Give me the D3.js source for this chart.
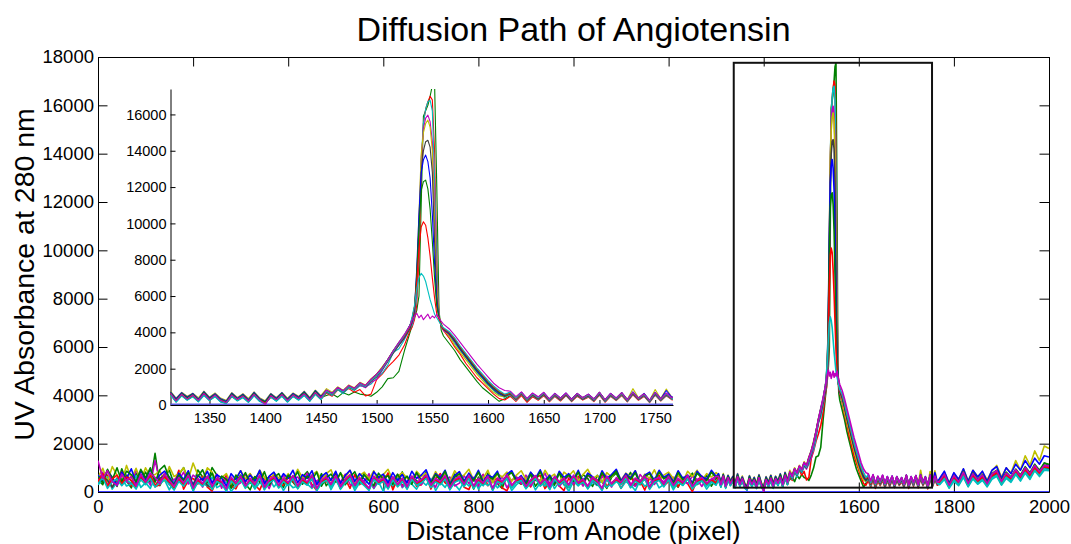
<!DOCTYPE html>
<html>
<head>
<meta charset="utf-8">
<script src="https://cdn.jsdelivr.net/npm/d3@7"></script>
<style>
  body { margin: 0; background: #fff; }
  text { font-family: "Liberation Sans", Arial, Helvetica, sans-serif; }
</style>
</head>
<body>
<svg id="chart" width="1071" height="544"></svg>
<script>
// sample positions along the capillary (pixel), shared by every scan
const xGrid = [
  0, 10, 20, 30, 40, 50, 60, 70, 80, 90,
  100, 110, 120, 130, 140, 150, 160, 170, 180, 190,
  200, 210, 220, 230, 240, 250, 260, 270, 280, 290,
  300, 310, 320, 330, 340, 350, 360, 370, 380, 390,
  400, 410, 420, 430, 440, 450, 460, 470, 480, 490,
  500, 510, 520, 530, 540, 550, 560, 570, 580, 590,
  600, 610, 620, 630, 640, 650, 660, 670, 680, 690,
  700, 710, 720, 730, 740, 750, 760, 770, 780, 790,
  800, 810, 820, 830, 840, 850, 860, 870, 880, 890,
  900, 910, 920, 930, 940, 950, 960, 970, 980, 990,
  1000, 1010, 1020, 1030, 1040, 1050, 1060, 1070, 1080, 1090,
  1100, 1110, 1120, 1130, 1140, 1150, 1160, 1170, 1180, 1190,
  1200, 1210, 1220, 1230, 1240, 1250, 1260, 1270, 1280, 1290,
  1300,
  1305, 1310, 1315, 1320, 1325, 1330, 1335, 1340, 1345, 1350,
  1355, 1360, 1365, 1370, 1375, 1380, 1385, 1390, 1395, 1400,
  1405, 1410, 1415, 1420, 1425, 1430, 1435, 1440, 1445, 1450,
  1455, 1460, 1465, 1470, 1475, 1480, 1485, 1490, 1495, 1500,
  1505, 1510, 1515, 1520, 1525, 1530,
  1532, 1534, 1536, 1538, 1540, 1542, 1544, 1546, 1548, 1550,
  1552, 1554, 1556, 1558, 1560,
  1565, 1570, 1575, 1580, 1585, 1590, 1595, 1600, 1605, 1610,
  1615, 1620, 1625, 1630, 1635, 1640, 1645, 1650, 1655, 1660,
  1665, 1670, 1675, 1680, 1685, 1690, 1695, 1700, 1705, 1710,
  1715, 1720, 1725, 1730, 1735, 1740, 1745, 1750, 1755, 1760,
  1765,
  1770, 1780, 1790, 1800, 1810, 1820, 1830, 1840, 1850, 1860,
  1870, 1880, 1890, 1900, 1910, 1920, 1930, 1940, 1950, 1960,
  1970, 1980, 1990, 2000
];

// UV absorbance, one array per scan (time order)
const scan1 = [
  520, 300, 880, 610, 230, 960, 450, 170, 770, 540,
  820, 390, 1600, 260, 640, 900, 330, 710, 1010, 480,
  240, 910, 620, 380, 1010, 700, 280, 560, 150, 420,
  700, 330, 90, 580, 810, 460, 300, 720, 480, 190,
  690, 400, 170, 620, 840, 510, 330, 760, 260, 540,
  760, 140, 500, 680, 300, 370, 790, 560, 250, 610,
  580, 720, 190, 460, 830, 160, 630, 470, 340, 840,
  290, 560, 700, 410, 200, 740, 520, 410, 680, 120,
  620, 270, 780, 500, 330, 150, 670, 830, 450, 320,
  580, 720, 240, 510, 220, 650, 460, 790, 300, 180,
  610, 380, 720, 560, 230, 690, 420, 150, 600, 780,
  340, 520, 810, 260, 450, 700, 190, 560, 640, 300,
  750, 420, 200, 610, 530, 780, 310, 460, 690, 240,
  560,
  720, 330, 690, 280, 610, 420, 560, 220, 680, 350,
  590, 300, 120, 610, 340, 530, 200, 640, 260, 190,
  540, 320, 600, 210, 570, 390, 650, 260, 700, 420,
  520, 620, 430, 680, 550, 720, 600, 560, 480, 700,
  1000, 1450, 1500, 1850, 3000, 4000,
  4400, 4800, 5200, 6000, 11000, 15900, 16200, 16500, 17000, 17600,
  17750, 12000, 5200, 4100, 3800,
  3400, 3000, 2500, 2100, 1700, 1300, 950, 700, 450, 200,
  350, 520, 300, 580, 180, 520, 320, 570, 230, 560,
  280, 600, 240, 560, 340, 500, 260, 620, 200, 570,
  310, 610, 230, 650, 330, 540, 180, 620, 280, 590,
  350,
  450, 700, 280, 620, 400, 750, 330, 820, 500, 640,
  330, 690, 880, 450, 760, 560, 900, 620, 1000, 700,
  1100, 800, 1200, 1100
];
const scan2 = [
  380, 600, 700, 180, 460, 820, 520, 260, 350, 740,
  410, 690, 220, 300, 760, 540, 350, 900, 120, 480,
  560, 330, 640, 200, 40, 520, 380, 700, 260, 130,
  580, 410, 750, 300, 80, 530, 610, 660, 200, 300,
  610, 450, 180, 520, 700, 310, 60, 590, 420, 350,
  680, 230, 540, 150, 720, 300, 470, 620, 160, 640,
  380, 790, 90, 560, 280, 420, 650, 240, 300, 680,
  120, 550, 760, 380, 240, 470, 650, 200, 100, 600,
  420, 730, 260, 480, 560, 170, 50, 480, 620, 330,
  470, 210, 580, 690, 140, 400, 530, 250, 60, 570,
  300, 650, 420, 180, 610, 470, 720, 230, 380, 560,
  150, 500, 640, 320, 460, 80, 590, 410, 700, 260,
  430, 610, 220, 540, 350, 20, 490, 660, 300, 520,
  450,
  540, 250, 600, 180, 520, 300, 470, 210, 560, 260,
  480, 180, 90, 450, 280, 420, 170, 560, 230, 80,
  420, 250, 510, 180, 480, 300, 560, 220, 600, 310,
  650, 480, 820, 700, 900, 700, 850, 500, 600, 1400,
  1700, 2100, 2400, 2750, 3300, 4100,
  4300, 4700, 5500, 8000, 13000, 15500, 16300, 16700, 17000, 16800,
  14000, 8000, 4800, 4300, 4100,
  3700, 3200, 2800, 2300, 1900, 1500, 1200, 900, 600, 350,
  280, 480, 200, 520, 150, 450, 260, 500, 180, 470,
  220, 520, 180, 480, 270, 430, 190, 540, 150, 480,
  240, 520, 170, 560, 260, 470, 130, 540, 220, 500,
  280,
  350, 600, 200, 520, 320, 700, 260, 640, 400, 560,
  260, 620, 720, 330, 640, 480, 780, 520, 850, 600,
  950, 700, 1000, 950
];
const scan3 = [
  300, 480, 620, 120, 400, 560, 250, 330, 680, 190,
  380, 150, 600, 330, 500, 90, 470, 620, 280, 540,
  90, 480, 360, 250, 620, 180, 300, 420, 30, 260,
  530, 260, 440, 120, 380, 250, 560, 210, 470, 60,
  390, 180, 250, 520, 330, 150, 430, 310, 580, 100,
  460, 240, 350, 520, 60, 380, 290, 560, 140, 420,
  30, 500, 260, 610, 180, 390, 320, 120, 470, 280,
  560, 60, 400, 190, 520, 320, 80, 440, 250, 560,
  130, 400, 270, 480, 170, 350, 540, 60, 300, 460,
  200, 510, 90, 380, 250, 560, 140, 420, 330, 40,
  440, 250, 560, 130, 400, 270, 480, 200, 350, 520,
  150, 430, 300, 60, 490, 240, 380, 560, 170, 320,
  480, 90, 410, 270, 540, 180, 330, 460, 120, 390,
  480,
  480, 200, 560, 150, 500, 260, 450, 170, 520, 240,
  450, 160, 80, 470, 220, 400, 140, 500, 190, 60,
  440, 200, 480, 150, 460, 260, 520, 200, 580, 300,
  700, 520, 850, 620, 950, 800, 1050, 1000, 1150, 1500,
  1750, 2200, 2900, 3100, 3600, 4200,
  4400, 4900, 6000, 9500, 13500, 15500, 16300, 16700, 16790, 16200,
  12500, 7500, 4900, 4400, 4200,
  3800, 3400, 3000, 2600, 2200, 1800, 1450, 1100, 800, 550,
  420, 560, 260, 600, 230, 520, 300, 560, 220, 500,
  260, 540, 210, 520, 300, 470, 220, 580, 190, 500,
  270, 560, 200, 600, 290, 500, 160, 570, 240, 530,
  320,
  300, 520, 150, 440, 260, 600, 210, 540, 320, 480,
  210, 520, 650, 280, 560, 400, 720, 450, 780, 520,
  880, 640, 900, 880
];
const scan4 = [
  460, 820, 310, 580, 260, 700, 420, 350, 900, 510,
  640, 280, 1300, 470, 760, 300, 540, 480, 820, 330,
  700, 550, 200, 640, 380, 740, 160, 590, 450, 260,
  380, 720, 500, 230, 600, 480, 140, 650, 420, 700,
  280, 560, 620, 350, 780, 200, 470, 560, 680, 290,
  600, 420, 740, 310, 250, 580, 430, 760, 170, 520,
  650, 340, 520, 720, 210, 440, 560, 780, 300, 640,
  410, 200, 700, 480, 620, 250, 370, 680, 350, 600,
  240, 720, 430, 560, 320, 640, 180, 490, 620, 350,
  700, 260, 530, 440, 780, 300, 600, 230, 470, 660,
  330, 580, 240, 720, 460, 300, 640, 530, 200, 600,
  430, 680, 350, 240, 720, 490, 600, 310, 560, 420,
  620, 290, 700, 450, 340, 660, 520, 230, 580, 430,
  620,
  620, 280, 640, 220, 580, 330, 520, 260, 620, 290,
  540, 230, 100, 520, 300, 480, 220, 580, 280, 70,
  500, 280, 560, 230, 520, 330, 600, 280, 660, 360,
  760, 560, 900, 700, 1000, 850, 1100, 950, 1250, 1400,
  1900, 2400, 2900, 3300, 3700, 4300,
  4500, 5000, 6500, 10000, 13500, 15200, 15800, 15960, 15600, 14500,
  11000, 6800, 4900, 4400, 4100,
  3900, 3500, 3100, 2700, 2300, 1900, 1550, 1200, 900, 650,
  500, 620, 330, 640, 280, 560, 350, 600, 260, 540,
  300, 580, 250, 560, 330, 520, 260, 620, 230, 540,
  310, 600, 240, 640, 330, 540, 200, 610, 290, 570,
  370,
  420, 660, 260, 600, 380, 760, 300, 700, 460, 620,
  300, 680, 820, 400, 700, 540, 860, 600, 950, 680,
  1050, 780, 1100, 1050
];
const scan5 = [
  600, 980, 420, 1050, 700, 400, 1100, 560, 980, 460,
  1000, 640, 720, 880, 460, 1050, 640, 760, 1000, 520,
  1200, 700, 520, 1000, 820, 380, 600, 760, 320, 560,
  880, 540, 760, 420, 900, 620, 300, 800, 580, 460,
  760, 520, 940, 600, 380, 700, 850, 460, 760, 920,
  420, 760, 600, 900, 340, 680, 820, 520, 880, 400,
  720, 940, 480, 650, 800, 580, 380, 860, 640, 780,
  420, 840, 520, 760, 420, 880, 600, 700, 940, 480,
  800, 560, 900, 380, 760, 620, 820, 440, 700, 880,
  520, 780, 640, 420, 900, 600, 740, 380, 820, 660,
  880, 460, 720, 940, 560, 680, 400, 800, 620, 900,
  500, 780, 620, 880, 420, 740, 560, 920, 480, 700,
  820, 560, 700, 420, 860, 640, 900, 480, 760, 620,
  800,
  700, 420, 760, 380, 700, 480, 650, 400, 760, 440,
  660, 380, 260, 680, 420, 620, 360, 720, 400, 240,
  640, 420, 700, 380, 660, 480, 760, 420, 820, 520,
  900, 700, 1000, 820, 1100, 950, 1250, 1100, 1450, 1700,
  2100, 2500, 3000, 3400, 3800, 4400,
  4700, 5200, 7000, 10500, 13800, 15000, 15500, 15685, 15300, 14000,
  10000, 6500, 4900, 4500, 4200,
  3800, 3300, 2900, 2500, 2100, 1700, 1350, 1000, 700, 500,
  450, 700, 380, 680, 330, 620, 420, 650, 330, 600,
  380, 640, 320, 620, 420, 580, 330, 700, 300, 620,
  380, 680, 300, 900, 400, 620, 260, 850, 360, 880,
  420,
  500, 820, 380, 760, 520, 950, 460, 900, 640, 820,
  500, 880, 1100, 620, 1000, 780, 1300, 900, 1500, 1100,
  1700, 1300, 1900, 1800
];
const scan6 = [
  360, 640, 480, 200, 580, 300, 700, 450, 180, 620,
  380, 600, 240, 560, 700, 340, 120, 480, 280, 600,
  90, 420, 560, 280, 150, 480, 360, 60, 500, 300,
  560, 180, 460, 250, 620, 120, 420, 540, 200, 470,
  300, 600, 170, 450, 320, 600, 80, 400, 520, 240,
  580, 150, 430, 620, 200, 500, 300, 100, 560, 350,
  480, 160, 540, 250, 480, 150, 560, 320, 400, 600,
  210, 460, 330, 580, 120, 420, 520, 250, 600, 180,
  450, 300, 560, 90, 480, 360, 620, 200, 430, 510,
  160, 400, 580, 270, 460, 130, 550, 340, 480, 220,
  600, 310, 440, 170, 520, 380, 90, 560, 270, 460,
  330, 590, 200, 480, 360, 560, 140, 430, 510, 250,
  550, 200, 460, 320, 600, 160, 420, 500, 280, 450,
  320,
  560, 230, 600, 200, 540, 290, 490, 220, 580, 260,
  500, 210, 110, 500, 260, 450, 190, 540, 240, 100,
  460, 240, 520, 200, 500, 300, 560, 240, 620, 330,
  720, 560, 880, 700, 980, 840, 1150, 1000, 1300, 1550,
  1950, 2400, 2850, 3300, 3700, 4200,
  4600, 5100, 6800, 9800, 12800, 14000, 14500, 14580, 14200, 12800,
  9000, 6000, 4800, 4400, 4150,
  3900, 3500, 3050, 2650, 2250, 1850, 1500, 1150, 850, 600,
  470, 600, 310, 620, 260, 540, 330, 590, 250, 530,
  290, 570, 230, 550, 320, 510, 250, 600, 220, 530,
  300, 590, 230, 620, 310, 530, 190, 600, 270, 560,
  340,
  380, 600, 220, 560, 330, 700, 270, 640, 420, 580,
  270, 620, 760, 350, 660, 500, 800, 560, 880, 640,
  980, 720, 1000, 980
];
const scan7 = [
  700, 420, 900, 560, 300, 820, 560, 960, 380, 880,
  520, 940, 460, 700, 860, 620, 300, 780, 520, 880,
  260, 700, 480, 860, 360, 720, 580, 240, 760, 520,
  880, 420, 700, 460, 900, 340, 660, 820, 420, 760,
  560, 900, 380, 720, 560, 880, 300, 640, 800, 480,
  860, 360, 680, 900, 440, 760, 540, 320, 840, 600,
  740, 380, 800, 480, 720, 380, 860, 560, 700, 920,
  420, 760, 580, 900, 350, 680, 840, 460, 780, 520,
  900, 440, 700, 600, 860, 320, 740, 880, 500, 680,
  380, 820, 560, 920, 460, 700, 340, 860, 600, 760,
  500, 900, 420, 780, 640, 360, 880, 560, 720, 940,
  460, 760, 580, 880, 360, 700, 820, 480, 900, 600,
  740, 420, 880, 560, 700, 380, 860, 640, 520, 900,
  640,
  760, 400, 720, 350, 680, 440, 640, 330, 740, 400,
  620, 340, 220, 660, 380, 600, 300, 700, 360, 200,
  620, 380, 680, 330, 640, 440, 740, 380, 800, 480,
  820, 650, 960, 780, 1050, 900, 1200, 1050, 1400, 1650,
  2000, 2500, 2950, 3400, 3800, 4400,
  4700, 5300, 7500, 10500, 12800, 13500, 13760, 13400, 12500, 10500,
  7800, 5600, 4800, 4400, 4200,
  3950, 3550, 3100, 2700, 2300, 1900, 1550, 1200, 900, 650,
  520, 720, 380, 700, 320, 640, 420, 680, 330, 640,
  380, 660, 320, 640, 400, 600, 330, 700, 280, 640,
  380, 680, 300, 720, 380, 640, 260, 700, 340, 800,
  420,
  560, 860, 360, 800, 520, 960, 440, 900, 620, 860,
  440, 900, 1050, 560, 1000, 760, 1150, 900, 1300, 1000,
  1400, 1150, 1500, 1450
];
const scan8 = [
  640, 380, 940, 500, 1000, 420, 860, 720, 420, 940,
  580, 1000, 400, 920, 1100, 560, 260, 700, 460, 800,
  200, 640, 920, 420, 780, 300, 660, 520, 180, 700,
  460, 800, 360, 640, 400, 840, 280, 600, 760, 360,
  700, 500, 840, 320, 660, 500, 820, 240, 580, 740,
  420, 800, 300, 620, 840, 380, 700, 480, 260, 780,
  540, 680, 320, 740, 420, 660, 320, 800, 500, 620,
  360, 720, 500, 860, 280, 600, 760, 400, 700, 460,
  820, 380, 640, 540, 780, 280, 660, 800, 440, 620,
  320, 740, 480, 840, 380, 640, 280, 780, 520, 700,
  440, 820, 360, 700, 560, 300, 800, 480, 660, 860,
  400, 700, 520, 800, 300, 640, 760, 420, 820, 540,
  680, 360, 800, 500, 640, 320, 780, 580, 460, 820,
  580,
  680, 360, 700, 300, 640, 400, 600, 290, 700, 360,
  580, 300, 180, 620, 340, 560, 260, 660, 320, 160,
  580, 340, 640, 290, 600, 400, 700, 340, 760, 440,
  800, 620, 940, 760, 1050, 900, 1200, 1050, 1400, 1700,
  2050, 2500, 3000, 3450, 3850, 4400,
  4800, 5400, 7200, 9800, 11800, 12300, 12380, 11900, 10800, 9000,
  7000, 5400, 4800, 4400, 4200,
  4000, 3600, 3150, 2750, 2350, 1950, 1600, 1250, 950, 700,
  540, 680, 360, 680, 300, 620, 400, 660, 310, 610,
  350, 640, 300, 620, 380, 580, 310, 680, 270, 610,
  350, 650, 280, 690, 360, 600, 240, 680, 320, 640,
  390,
  480, 720, 320, 680, 440, 860, 380, 780, 520, 720,
  380, 760, 900, 480, 820, 620, 950, 700, 1050, 800,
  1150, 900, 1200, 1150
];
const scan9 = [
  420, 760, 220, 540, 700, 330, 620, 480, 200, 660,
  380, 700, 280, 460, 620, 400, 140, 540, 300, 660,
  110, 480, 300, 640, 170, 520, 400, 80, 560, 330,
  620, 210, 500, 270, 680, 150, 470, 600, 220, 520,
  340, 660, 200, 500, 360, 660, 100, 440, 580, 270,
  640, 170, 470, 680, 230, 560, 330, 120, 620, 390,
  530, 180, 600, 280, 530, 170, 620, 350, 460, 660,
  240, 500, 380, 640, 150, 470, 580, 290, 660, 200,
  500, 330, 620, 110, 520, 400, 680, 230, 470, 560,
  190, 440, 630, 300, 500, 160, 600, 370, 520, 250,
  650, 340, 480, 200, 560, 410, 110, 610, 300, 500,
  360, 640, 230, 520, 390, 610, 160, 470, 560, 280,
  600, 230, 500, 350, 650, 190, 460, 540, 310, 490,
  380,
  600, 260, 620, 210, 560, 310, 510, 230, 600, 280,
  520, 230, 120, 530, 280, 470, 200, 560, 260, 110,
  480, 260, 540, 220, 520, 320, 580, 260, 640, 350,
  780, 600, 920, 740, 1030, 880, 1180, 1040, 1380, 1650,
  2000, 2450, 2950, 3400, 3800, 4350,
  4800, 5400, 6800, 8600, 9800, 10090, 9900, 9200, 8200, 7000,
  5900, 5000, 4700, 4400, 4200,
  4000, 3650, 3200, 2800, 2400, 2000, 1650, 1300, 1000, 750,
  560, 660, 340, 660, 290, 600, 380, 640, 290, 590,
  330, 620, 270, 600, 360, 560, 290, 660, 250, 590,
  330, 630, 260, 670, 340, 580, 220, 660, 300, 610,
  360,
  400, 640, 240, 600, 360, 760, 300, 680, 440, 620,
  300, 660, 800, 380, 720, 540, 860, 600, 920, 680,
  1000, 760, 1050, 1000
];
const scan10 = [
  340, 600, 150, 420, 540, 260, 500, 360, 120, 520,
  300, 560, 200, 420, 500, 320, 80, 440, 240, 560,
  40, 400, 240, 520, 100, 440, 320, 30, 460, 260,
  520, 150, 420, 200, 560, 90, 380, 500, 160, 440,
  260, 560, 130, 420, 280, 560, 50, 360, 480, 200,
  540, 110, 380, 580, 160, 460, 260, 60, 520, 320,
  440, 120, 500, 210, 440, 110, 520, 280, 380, 560,
  180, 420, 300, 540, 90, 400, 490, 220, 560, 140,
  420, 260, 540, 60, 440, 330, 580, 170, 400, 480,
  130, 380, 560, 240, 450, 100, 530, 300, 460, 190,
  560, 280, 410, 140, 490, 340, 60, 540, 240, 430,
  300, 560, 170, 450, 320, 540, 110, 400, 480, 210,
  520, 170, 430, 280, 560, 120, 380, 460, 240, 420,
  280,
  520, 210, 560, 170, 500, 270, 460, 190, 540, 240,
  480, 190, 90, 480, 240, 430, 160, 520, 220, 70,
  440, 220, 500, 180, 480, 280, 540, 220, 600, 310,
  760, 580, 900, 720, 1010, 860, 1160, 1020, 1360, 1620,
  1980, 2450, 2950, 3400, 3850, 4400,
  4900, 5500, 6400, 7000, 7250, 7100, 6800, 6300, 5800, 5400,
  5000, 4800, 4600, 4400, 4250,
  4050, 3700, 3250, 2850, 2450, 2050, 1700, 1350, 1050, 800,
  600, 700, 380, 680, 310, 620, 400, 660, 300, 600,
  350, 630, 280, 610, 370, 560, 300, 660, 260, 600,
  340, 640, 270, 680, 350, 590, 230, 670, 310, 620,
  370,
  320, 560, 180, 500, 300, 660, 240, 580, 360, 520,
  240, 580, 700, 320, 620, 460, 760, 500, 820, 580,
  900, 680, 960, 920
];
const scan11 = [
  1300, 560, 880, 420, 300, 740, 460, 640, 250, 720,
  420, 780, 600, 340, 720, 480, 240, 600, 380, 700,
  170, 560, 360, 660, 240, 580, 440, 130, 620, 380,
  660, 260, 560, 320, 700, 200, 500, 640, 280, 580,
  400, 680, 260, 560, 420, 700, 150, 480, 620, 320,
  680, 220, 520, 720, 280, 600, 380, 160, 660, 440,
  580, 230, 640, 320, 580, 220, 660, 400, 520, 700,
  300, 560, 440, 680, 200, 520, 640, 340, 700, 260,
  560, 380, 660, 160, 580, 440, 720, 280, 520, 620,
  240, 500, 680, 350, 560, 210, 650, 420, 580, 300,
  700, 390, 540, 250, 620, 460, 160, 660, 350, 560,
  410, 690, 280, 580, 440, 660, 210, 520, 610, 330,
  650, 280, 560, 400, 700, 240, 510, 600, 360, 540,
  640,
  640, 300, 660, 240, 600, 340, 560, 270, 640, 310,
  560, 260, 140, 560, 320, 500, 230, 600, 300, 20,
  520, 300, 580, 250, 560, 360, 620, 300, 700, 400,
  820, 640, 960, 780, 1080, 920, 1220, 1080, 1420, 1700,
  2050, 2500, 3000, 3450, 3900, 4400,
  4700, 4900, 5050, 4800, 4950, 4700, 4850, 5000, 4750, 4900,
  4800, 5000, 4800, 4600, 4450,
  4200, 3850, 3450, 3050, 2650, 2250, 1900, 1550, 1200, 950,
  800, 760, 460, 720, 360, 660, 450, 700, 340, 640,
  380, 660, 310, 640, 400, 600, 330, 700, 290, 640,
  380, 680, 300, 700, 380, 620, 260, 690, 340, 660,
  400,
  460, 740, 290, 680, 420, 820, 350, 760, 500, 700,
  350, 740, 880, 450, 780, 600, 920, 660, 1000, 760,
  1100, 850, 1100, 1080
];
const scans = [scan1, scan2, scan3, scan4, scan5, scan6, scan7, scan8, scan9, scan10, scan11];
// MATLAB colour order, starting after the blue reference scan
const scanColors = ['#008000', '#ff0000', '#00bfbf', '#bf00bf', '#bfbf00', '#404040',
                    '#0000ff', '#008000', '#ff0000', '#00bfbf', '#bf00bf'];

// reference (blank) scan
const zeroX = [0, 2000];
const zeroY = [0, 0];

const mainXTicks = [0, 200, 400, 600, 800, 1000, 1200, 1400, 1600, 1800, 2000];
const mainYTicks = [0, 2000, 4000, 6000, 8000, 10000, 12000, 14000, 16000, 18000];
const insetXTicks = [1350, 1400, 1450, 1500, 1550, 1600, 1650, 1700, 1750];
const insetYTicks = [0, 2000, 4000, 6000, 8000, 10000, 12000, 14000, 16000];

// zoom rectangle drawn on the main axes
const zoomBoxX = [1337, 1754];
const zoomBoxY = [180, 17760];

const W = 1071, H = 544;
const svg = d3.select('#chart');
svg.append('rect').attr('width', W).attr('height', H).attr('fill', '#fff');

const main = { left: 98, right: 1049, top: 57, bottom: 492 };
const x = d3.scaleLinear().domain([0, 2000]).range([main.left, main.right]);
const y = d3.scaleLinear().domain([0, 18000]).range([main.bottom, main.top]);

const inset = { left: 170.5, right: 673, top: 89, bottom: 405 };
const xi = d3.scaleLinear().domain([1315, 1766]).range([inset.left, inset.right]);
const yi = d3.scaleLinear().domain([0, 17400]).range([inset.bottom, inset.top]);

const fmt = d3.format('d');

const defs = svg.append('defs');
function addClip(id, box) {
  defs.append('clipPath').attr('id', id)
    .append('rect')
    .attr('x', box.left).attr('y', box.top)
    .attr('width', box.right - box.left).attr('height', box.bottom - box.top);
}
addClip('clipMain', main);
addClip('clipInset', inset);

function styleAxis(g, size) {
  g.attr('font-family', null).attr('font-size', null);
  g.select('.domain').attr('stroke', '#000').attr('stroke-width', 1);
  g.selectAll('.tick line').attr('stroke', '#000').attr('stroke-width', 1);
  g.selectAll('.tick text').attr('fill', '#000').style('font-size', size + 'px');
}

function drawScans(g, sx, sy, zeroColor, zeroWidth, width) {
  g.append('path')
    .datum(zeroY)
    .attr('d', d3.line().x((d, i) => sx(zeroX[i])).y(d => sy(d)))
    .attr('fill', 'none')
    .attr('stroke', zeroColor)
    .attr('stroke-width', zeroWidth);

  const line = d3.line().x((d, i) => sx(xGrid[i])).y(d => sy(d));
  scans.forEach((s, k) => {
    g.append('path')
      .datum(s)
      .attr('d', line)
      .attr('fill', 'none')
      .attr('stroke', scanColors[k])
      .attr('stroke-width', width)
      .attr('stroke-linejoin', 'round');
  });
}

// ---- main axes ----
const tick = 9.5;
svg.append('g').attr('transform', `translate(0,${main.bottom})`)
  .call(d3.axisBottom(x).tickValues(mainXTicks).tickFormat(fmt).tickSizeInner(-tick).tickSizeOuter(0).tickPadding(8))
  .call(g => styleAxis(g, 18.5));
svg.append('g').attr('transform', `translate(0,${main.top})`)
  .call(d3.axisTop(x).tickValues(mainXTicks).tickSizeInner(-tick).tickSizeOuter(0).tickFormat(''))
  .call(g => styleAxis(g, 18.5));
svg.append('g').attr('transform', `translate(${main.left},0)`)
  .call(d3.axisLeft(y).tickValues(mainYTicks).tickFormat(fmt).tickSizeInner(-tick).tickSizeOuter(0).tickPadding(4))
  .call(g => styleAxis(g, 18.5));
svg.append('g').attr('transform', `translate(${main.right},0)`)
  .call(d3.axisRight(y).tickValues(mainYTicks).tickSizeInner(-tick).tickSizeOuter(0).tickFormat(''))
  .call(g => styleAxis(g, 18.5));

drawScans(svg.append('g').attr('clip-path', 'url(#clipMain)'), x, y, '#0000ff', 1.5, 1.6);

svg.append('rect')
  .attr('x', x(zoomBoxX[0]))
  .attr('y', y(zoomBoxY[1]))
  .attr('width', x(zoomBoxX[1]) - x(zoomBoxX[0]))
  .attr('height', y(zoomBoxY[0]) - y(zoomBoxY[1]))
  .attr('fill', 'none')
  .attr('stroke', '#111')
  .attr('stroke-width', 2);

// ---- inset axes ----
svg.append('rect')
  .attr('x', inset.left).attr('y', inset.top)
  .attr('width', inset.right - inset.left).attr('height', inset.bottom - inset.top)
  .attr('fill', '#fff');

svg.append('g').attr('transform', `translate(0,${inset.bottom})`)
  .call(d3.axisBottom(xi).tickValues(insetXTicks).tickFormat(fmt).tickSizeInner(-5).tickSizeOuter(0).tickPadding(8))
  .call(g => styleAxis(g, 14.5));
svg.append('g').attr('transform', `translate(${inset.left},0)`)
  .call(d3.axisLeft(yi).tickValues(insetYTicks).tickFormat(fmt).tickSizeInner(-5).tickSizeOuter(0).tickPadding(4))
  .call(g => styleAxis(g, 14.5));

drawScans(svg.append('g').attr('clip-path', 'url(#clipInset)'), xi, yi, '#5c5ce0', 3, 1.1);

// ---- titles ----
svg.append('text')
  .attr('x', (main.left + main.right) / 2).attr('y', 41)
  .attr('text-anchor', 'middle')
  .style('font-size', '34px')
  .text('Diffusion Path of Angiotensin');

svg.append('text')
  .attr('x', (main.left + main.right) / 2).attr('y', 539.5)
  .attr('text-anchor', 'middle')
  .style('font-size', '26.5px')
  .text('Distance From Anode (pixel)');

svg.append('text')
  .attr('transform', `translate(34,${(main.top + main.bottom) / 2}) rotate(-90)`)
  .attr('text-anchor', 'middle')
  .style('font-size', '28.5px')
  .text('UV Absorbance at 280 nm');

scans.forEach((s, k) => {
  if (s.length !== xGrid.length) throw new Error('scan' + (k + 1) + ' has ' + s.length + ' values, grid has ' + xGrid.length);
});
</script>
</body>
</html>
